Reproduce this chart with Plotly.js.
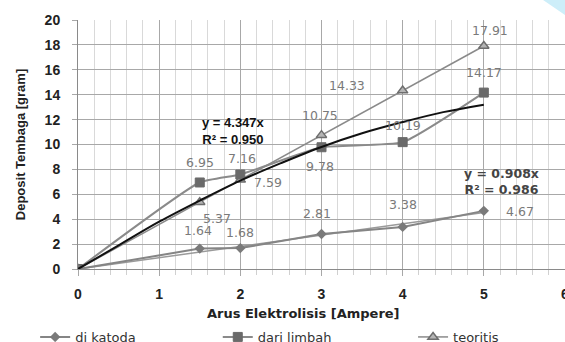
<!DOCTYPE html>
<html><head><meta charset="utf-8">
<script src="https://cdn.plot.ly/plotly-3.0.1.min.js"></script>
<style>html,body{margin:0;padding:0;background:#fff}#c{width:565px;height:342px}</style>
</head><body><div id="c"></div>
<script>
// data
const arus = [0, 1.5, 2, 3, 4, 5];
const diKatoda = [0, 1.64, 1.68, 2.81, 3.38, 4.67];
const dariLimbah = [0, 6.95, 7.59, 9.78, 10.19, 14.17];
const teoritis = [0, 5.37, 7.16, 10.75, 14.33, 17.91];
const trendLimbahX = [0, 0.5, 1, 1.5, 2, 2.5, 3, 3.5, 4, 4.5, 5];
const trendLimbahY = [0, 1.9, 3.8, 5.5, 7.1, 8.5, 9.8, 10.9, 11.8, 12.6, 13.2];
const trendKatodaX = [0, 5];
const trendKatodaY = [0, 4.54];
const seriesNames = ['di katoda', 'dari limbah', 'teoritis'];
const eqLimbah = ['y = 4.347x', 'R² = 0.950'];
const eqKatoda = ['y = 0.908x', 'R² = 0.986'];
const xTickVals = [0, 1, 2, 3, 4, 5, 6];
const xTickText = ['0', '1', '2', '3', '4', '5', '6'];
const yTickVals = [0, 2, 4, 6, 8, 10, 12, 14, 16, 18, 20];
const yTickText = ['0', '2', '4', '6', '8', '10', '12', '14', '16', '18', '20'];

// label offsets (px) per point, styles only
const offKatoda = [null, [-2, 18], [0, 16], [-5, 21], [0, 22], [36, -1]];
const offLimbah = [null, [0, 20], [28, -8], [-2, -19], [0, 17], [0, 20]];
const offTeori  = [null, [17, -16], [2, 21], [-2, 20], [-56, 5], [6, 16]];

const boldFam = '"Liberation Sans", Arial, sans-serif';
const lblFont = {family: '"DejaVu Sans", Verdana, sans-serif', size: 12.5, color: '#7a7a7a'};
const b = s => '<b>' + s + '</b>';

const traces = [
  {x: trendKatodaX, y: trendKatodaY, mode: 'lines', line: {color: '#9a9a9a', width: 1.5}, showlegend: false, hoverinfo: 'skip'},
  {x: arus, y: teoritis, name: seriesNames[2], mode: 'lines+markers', legend: 'legend3',
   line: {color: '#8a8a8a', width: 1.5},
   marker: {symbol: 'triangle-up', size: 9, color: '#b5b5b5', line: {color: '#6e6e6e', width: 1.5}}},
  {x: arus, y: dariLimbah, name: seriesNames[1], mode: 'lines+markers', legend: 'legend2',
   line: {color: '#8a8a8a', width: 2, shape: 'spline', smoothing: 0.45},
   marker: {symbol: 'square', size: 9, color: '#6a6a6a', line: {color: '#6a6a6a', width: 1}}},
  {x: arus, y: diKatoda, name: seriesNames[0], mode: 'lines+markers', legend: 'legend',
   line: {color: '#858585', width: 2},
   marker: {symbol: 'diamond', size: 8, color: '#7a7a7a'}},
  {x: trendLimbahX, y: trendLimbahY, mode: 'lines', line: {color: '#111', width: 2, shape: 'spline'}, showlegend: false, hoverinfo: 'skip'}
];

const annotations = [];
function addLabels(ys, offs) {
  ys.forEach((v, i) => {
    if (!offs[i]) return;
    annotations.push({x: arus[i], y: v, xref: 'x', yref: 'y', text: v.toFixed(2), showarrow: false,
      xshift: offs[i][0], yshift: offs[i][1], font: lblFont});
  });
}
addLabels(teoritis, offTeori);
addLabels(dariLimbah, offLimbah);
addLabels(diKatoda, offKatoda);
annotations.push({x: 1.91, y: 11.1, xref: 'x', yref: 'y', text: eqLimbah.map(b).join('<br>'), showarrow: false,
  font: {family: boldFam, size: 13, color: '#111'}, align: 'center'});
annotations.push({x: 5.22, y: 7.0, xref: 'x', yref: 'y', text: eqKatoda.map(b).join('<br>'), showarrow: false,
  font: {family: '"DejaVu Sans", sans-serif', size: 12.5, color: '#444'}, align: 'center'});
annotations.push({x: 0.464, y: -0.177, xref: 'paper', yref: 'paper', yanchor: 'middle', text: b('Arus Elektrolisis [Ampere]'), showarrow: false,
  font: {family: '"DejaVu Sans", sans-serif', size: 13, color: '#222'}});

const legFont = {family: '"DejaVu Sans", sans-serif', size: 13, color: '#333'};
const legBase = {orientation: 'h', yanchor: 'middle', y: -0.273, xanchor: 'left', font: legFont, bgcolor: 'rgba(0,0,0,0)', borderwidth: 0};

const layout = {
  width: 565, height: 342,
  margin: {l: 78, r: 0, t: 20, b: 73, autoexpand: false},
  paper_bgcolor: '#fff', plot_bgcolor: '#fff',
  showlegend: true,
  legend: Object.assign({}, legBase, {x: -0.088}),
  legend2: Object.assign({}, legBase, {x: 0.287}),
  legend3: Object.assign({}, legBase, {x: 0.688}),
  xaxis: {range: [0, 6], tickvals: xTickVals, ticktext: xTickText.map(b), showgrid: true, gridcolor: '#a8a8a8', gridwidth: 1,
    zeroline: false, showline: true, linecolor: '#8a8a8a', linewidth: 1,
    ticks: 'outside', ticklen: 6, tickcolor: '#a8a8a8', ticklabelstandoff: 6, ticklabeloverflow: 'allow',
    minor: {dtick: 0.2, showgrid: true, gridcolor: '#d9d9d9', ticks: 'outside', ticklen: 5, tickcolor: '#d0d0d0'},
    tickfont: {family: boldFam, size: 14, color: '#222'}, fixedrange: true, automargin: false},
  yaxis: {range: [0, 20], tickvals: yTickVals, ticktext: yTickText.map(b), showgrid: true, gridcolor: '#a8a8a8', gridwidth: 1,
    zeroline: false, showline: true, linecolor: '#8a8a8a', linewidth: 1,
    ticks: 'outside', ticklen: 5, tickcolor: '#a8a8a8', ticklabelstandoff: 9,
    tickfont: {family: boldFam, size: 14, color: '#222'},
    title: {text: b('Deposit Tembaga [gram]'), font: {family: boldFam, size: 13, color: '#222'}, standoff: 16},
    fixedrange: true, automargin: false},
  annotations: annotations,
  shapes: [
    {type: 'path', xref: 'paper', yref: 'paper', path: 'M 0.955 1.08 L 1.0 1.08 L 1.0 1.02 Z', fillcolor: '#cdeef9', line: {width: 0}, layer: 'above'}
  ]
};

Plotly.newPlot('c', traces, layout, {displayModeBar: false, staticPlot: true});
</script>
</body></html>
